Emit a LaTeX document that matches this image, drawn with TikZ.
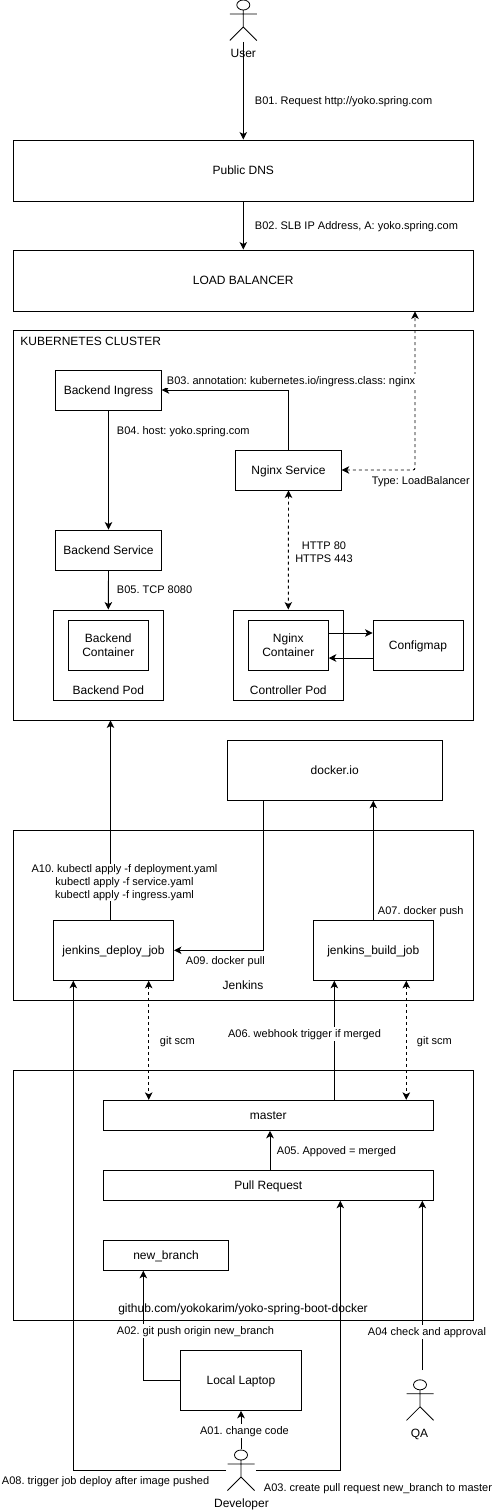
\documentclass[tikz,border=0pt]{standalone}
\usepackage{fontspec}
\setmainfont{Liberation Sans}
\frenchspacing
\usetikzlibrary{arrows.meta}
\tikzset{
	box/.style 2 args={draw,line width=0.9pt,inner sep=0pt,align=center,minimum width=#1,minimum height=#2,text height=11.5pt,text depth=2.6pt,font=\fontsize{12}{14}\selectfont},
	txt/.style={inner sep=0pt,align=center,text height=11pt,text depth=2.6pt,font=\fontsize{12}{14}\selectfont},
	lbl/.style={fill=white,inner sep=0.5pt,align=center,text height=10.2pt,text depth=2.4pt,font=\fontsize{11}{13}\selectfont},
	lines/.style={text height={},text depth={}},
	actor/.style={inner sep=0pt,minimum width=29pt,minimum height=42pt,path picture={
		\draw[x=1pt,y=-1pt,line width=0.8pt,shift={(path picture bounding box.center)}]
			(0,-15.5) ellipse [x radius=6.5,y radius=5]
			(-13.5,-6.5) -- (13.5,-6.5)
			(0,-10.5) -- (0,6.5)
			(-13.5,20) -- (0,6.5) -- (13.5,20);}},
}
\begin{document}
\begin{tikzpicture}[x=1pt,y=-1pt,->,>={Stealth[length=7.5pt,width=7.5pt,inset=2pt]},line width=0.9pt]
	\useasboundingbox (0,0) rectangle (491,1512);
	\node[actor]				(user)		at (243.3,20.5)		{};
	\node[box={460pt}{61pt}]		(dns)		at (243.3,170.5)	{Public DNS};
	\node[box={460pt}{61pt}]		(lb)		at (243.3,280.5)	{LOAD BALANCER};
	\node[box={460pt}{390pt}]	(kube)		at (243.3,525)		{};
	\node[box={105.5pt}{40pt}]	(ingress)	at (108.5,390)		{Backend Ingress};
	\node[box={105.5pt}{40pt}]	(backsvc)	at (108.5,550)		{Backend Service};
	\node[box={105.5pt}{40pt}]	(nginxsvc)	at (288.5,470)		{Nginx Service};
	\node[box={110pt}{90pt}]		(backpod)	at (108.3,655)		{};
	\node[box={80pt}{50pt},lines]	(backcont)	at (108.3,645)		{Backend\\Container};
	\node[box={110pt}{90pt}]		(ctrlpod)	at (288.3,655)		{};
	\node[box={80pt}{50pt},lines]	(nginxcont)	at (288.3,645)		{Nginx\\Container};
	\node[box={90pt}{50pt}]		(configmap)	at (418,645)		{Configmap};
	\node[box={215.3pt}{60pt}]	(docker)	at (334.7,770.3)	{docker.io};
	\node[box={460pt}{170pt}]	(jenkins)	at (243.3,915.3)	{};
	\node[box={120pt}{60pt}]		(deploy)	at (113.5,950.3)	{jenkins\_deploy\_job};
	\node[box={120pt}{60pt}]		(build)		at (373.3,950.3)	{jenkins\_build\_job};
	\node[box={460pt}{250pt}]	(github)	at (243.3,1195.3)	{};
	\node[box={330pt}{30pt}]		(master)	at (268.3,1115.3)	{master};
	\node[box={330pt}{30pt}]		(pr)		at (268.3,1185.3)	{Pull Request};
	\node[box={125.4pt}{30pt}]	(newbranch)	at (166,1255.3)		{new\_branch};
	\node[box={120.6pt}{60pt}]	(laptop)	at (241,1380.3)		{Local Laptop};
	\node[actor]				(dev)		at (241,1470.5)		{};
	\node[actor]				(qa)		at (420,1400.3)		{};
	\coordinate				(qaline)	at (422.3,1370);

	\path	(user.south)			edge	(dns.north)
			(dns.south)			edge	(lb.north)
			(ingress.south)			edge	(backsvc.north)
			(backsvc.south)			edge	(backpod.north)
			([yshift=12pt]nginxcont.east)	edge	([yshift=12pt]configmap.west)
			([yshift=-13pt]configmap.west)	edge	([yshift=-13pt]nginxcont.east)
			([xshift=-3pt]deploy.north)	edge	([xshift=-132.8pt]kube.south)
			(build.north)			edge	([xshift=38.6pt]docker.south)
			([xshift=66pt]master.north)	edge	([xshift=-39pt]build.south)
			([xshift=1.7pt]pr.north)	edge	([xshift=1.7pt]master.south)
			(qaline)			edge	([xshift=154pt]pr.south)
			(dev.north)			edge	(laptop.south);
	\draw	(nginxsvc.north) |- (ingress.east);
	\draw	([xshift=-71.4pt]docker.south) |- (deploy.east);
	\draw	(laptop.west) -| ([xshift=-22.7pt]newbranch.south);
	\draw	(dev.west) -| ([xshift=-40.2pt]deploy.south);
	\draw	(dev.east) -| ([xshift=72pt]pr.south);
	\draw[<->,dashed]	(nginxsvc.south) -- (ctrlpod.north);
	\draw[<->,dashed,rounded corners=2pt]	(nginxsvc.east) -| ([xshift=171.7pt]lb.south);
	\draw[<->,dashed]	([xshift=35.2pt]deploy.south) -- ([xshift=-119.6pt]master.north);
	\draw[<->,dashed]	([xshift=33pt]build.south) -- ([xshift=138pt]master.north);

	\node[txt]			(usertxt)	at (243.3,53)		{User};
	\node[txt,anchor=west]		(kubetxt)	at (20,341)		{KUBERNETES CLUSTER};
	\node[txt]			(backpodtxt)	at (108.3,690)		{Backend Pod};
	\node[txt]			(ctrlpodtxt)	at (288.3,690)		{Controller Pod};
	\node[txt]			(jenkinstxt)	at (243,985.5)		{Jenkins};
	\node[txt]			(githubtxt)	at (243,1308)		{github.com/yokokarim/yoko-spring-boot-docker};
	\node[txt]			(qatxt)		at (419.5,1433.5)	{QA};
	\node[txt]			(devtxt)	at (241.5,1503.5)	{Developer};
	\node[lbl,anchor=west]		(b01)		at (254,101)		{B01. Request http://yoko.spring.com};
	\node[lbl,anchor=west]		(b02)		at (254,226)		{B02. SLB IP Address, A: yoko.spring.com};
	\node[lbl,anchor=west]		(b03)		at (166,381)		{B03. annotation: kubernetes.io/ingress.class: nginx};
	\node[lbl,anchor=west]		(b04)		at (116,431)		{B04. host: yoko.spring.com};
	\node[lbl,anchor=west]		(lbtype)	at (371,481)		{Type: LoadBalancer};
	\node[lbl,lines]		(ports)		at (324,552.5)		{HTTP 80\\HTTPS 443};
	\node[lbl,lines]		(a10)		at (124.5,882.5)	{A10. kubectl apply -f deployment.yaml\\kubectl apply -f service.yaml\\kubectl apply -f ingress.yaml};
	\node[lbl,anchor=west]		(b05)		at (116,590)		{B05. TCP 8080};
	\node[lbl,anchor=west]		(a07)		at (377,911)		{A07. docker push};
	\node[lbl,anchor=west]		(a09)		at (185,961)		{A09. docker pull};
	\node[lbl]			(a06)		at (304.5,1034)		{A06. webhook trigger if merged};
	\node[lbl,anchor=west]		(scma)		at (159,1041)		{git scm};
	\node[lbl,anchor=west]		(scmb)		at (416,1041)		{git scm};
	\node[lbl,anchor=west]		(a05)		at (276,1151)		{A05. Appoved = merged};
	\node[lbl,anchor=west]		(a02)		at (116,1331)		{A02. git push origin new\_branch};
	\node[lbl,anchor=west]		(a04)		at (367,1332)		{A04 check and approval};
	\node[lbl]			(a01)		at (244.5,1431)		{A01. change code};
	\node[lbl,anchor=west]		(a08)		at (1,1481)		{A08. trigger job deploy after image pushed};
	\node[lbl,anchor=west]		(a03)		at (263,1488)		{A03. create pull request new\_branch to master};
\end{tikzpicture}
\end{document}
